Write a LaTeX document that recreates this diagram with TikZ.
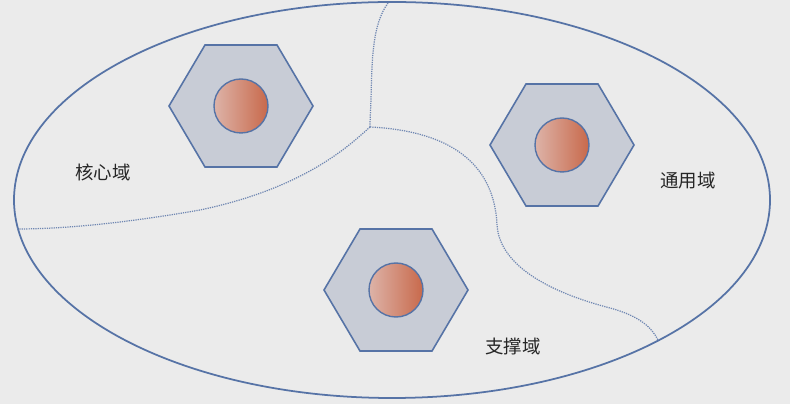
\documentclass[tikz,border=0pt]{standalone}
\usepackage{fontspec}
\newfontfamily\cjk{Noto Sans CJK SC}
\usepackage{xcolor}
\usetikzlibrary{calc}

\definecolor{bgcolor}{HTML}{EBEBEB}
\definecolor{edgeblue}{HTML}{5673A6}
\definecolor{dotblue}{HTML}{6F87B2}
\definecolor{hexfill}{HTML}{C8CCD6}
\definecolor{coreleft}{HTML}{DDB3A8}
\definecolor{coremid}{HTML}{CC7658}
\definecolor{coreright}{HTML}{C8694B}

\tikzset{
  domainline/.style={dotblue, line width=0.7pt, dash pattern=on 0.7pt off 0.6pt},
  domainlabel/.style={font=\cjk\fontsize{10.5}{12}\selectfont, text=black!85},
  hexcell/.pic={
    \draw[edgeblue, fill=hexfill, line width=0.9pt]
      (-72,0) -- (-36,-61) -- (36,-61) -- (72,0) -- (36,61) -- (-36,61) -- cycle;
    \shade[left color=coreleft, middle color=coremid, right color=coreright] (0,0) circle (27);
    \draw[edgeblue, line width=0.8pt] (0,0) circle (27);
  }
}

\begin{document}
\begin{tikzpicture}[x=0.02cm, y=-0.02cm]
				% Background
				\fill[bgcolor] (0,0) rectangle (790,404);
				\useasboundingbox (0,0) rectangle (790,404);
				
				% Outer ellipse
				\draw[edgeblue, line width=1pt] (392,200) ellipse [x radius=378, y radius=198];
				
				% Domain borders
				\coordinate (top) at (388,3);
				\coordinate (fork) at (370,127);
				\coordinate (leftend) at (17,229);
				\coordinate (rightend) at (658,340);
				\draw[domainline] (top) .. controls (372,25) and (372,60) .. (371,100)
					.. controls (370,122) .. (fork);
				\draw[domainline] (fork) .. controls (350,145) and (305,188) .. (200,210)
					.. controls (120,224) and (60,229) .. (leftend);
				\draw[domainline] (fork) .. controls (470,132) and (495,180) .. (497,225)
					.. controls (500,270) and (560,295) .. (610,308)
					.. controls (640,316) and (652,328) .. (rightend);
				
				% Hexagons
				\foreach \name/\cx/\cy in {corehex/241/106, generichex/562/145, supporthex/396/290} {
					\pic (\name) at (\cx,\cy) {hexcell};
				}
				
				% Labels
				\node[domainlabel] (corelabel) at (103,172) {核心域};
				\node[domainlabel] (genericlabel) at (688,181) {通用域};
				\node[domainlabel] (supportlabel) at (513,346) {支撑域};
			\end{tikzpicture}
\end{document}
